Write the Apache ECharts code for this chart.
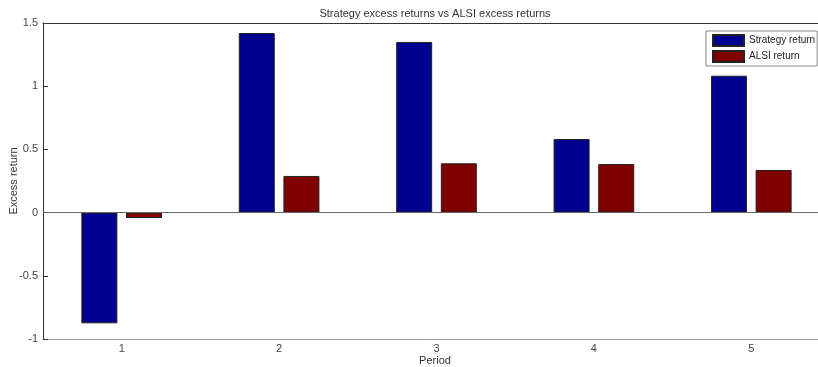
<!DOCTYPE html>
<html><head><meta charset="utf-8">
<script src="https://cdn.jsdelivr.net/npm/echarts@6/dist/echarts.min.js"></script>
<style>html,body{margin:0;padding:0;background:#fff}#c{width:818px;height:367px}</style>
</head><body><div id="c"></div>
<script>
var categories = ['1', '2', '3', '4', '5'];
var strategyReturn = [-0.876, 1.421, 1.35, 0.582, 1.083];
var alsiReturn = [-0.043, 0.29, 0.39, 0.384, 0.337];
var seriesNames = ['Strategy return', 'ALSI return'];
var titleText = 'Strategy excess returns vs ALSI excess returns';
var xName = 'Period';
var yName = 'Excess return';

var FONT = 'Liberation Sans, Arial, sans-serif';
var chart = echarts.init(document.getElementById('c'), null, {renderer: 'canvas'});
chart.setOption({
  animation: false,
  backgroundColor: '#fff',
  textStyle: {fontFamily: FONT},
  title: [
    {text: titleText, left: 430, top: 3, textAlign: 'center',
     textStyle: {fontSize: 11, fontWeight: 'normal', color: '#333', fontFamily: FONT}},
    {text: xName, left: 430, top: 350, textAlign: 'center',
     textStyle: {fontSize: 11, fontWeight: 'normal', color: '#333', fontFamily: FONT}}
  ],
  legend: {
    orient: 'vertical', left: 706, top: 31,
    data: seriesNames,
    icon: 'rect', itemWidth: 31, itemHeight: 11, itemGap: 3,
    padding: [3, 2, 3, 6],
    borderColor: '#888', borderWidth: 1, backgroundColor: '#fff',
    textStyle: {fontSize: 10, color: '#222', fontFamily: FONT}
  },
  grid: {left: 43, top: 23, width: 787, height: 316, containLabel: false, outerBoundsMode: 'none'},
  xAxis: [
    {type: 'category', data: categories, position: 'bottom',
     axisLine: {onZero: false, lineStyle: {color: '#999', width: 1}},
     axisTick: {inside: true, alignWithLabel: true, length: 5, lineStyle: {color: '#333'}},
     axisLabel: {fontSize: 11, color: '#444', margin: 4, fontFamily: FONT},
     splitLine: {show: false}},
    {type: 'category', data: categories, position: 'top',
     axisLine: {onZero: false, lineStyle: {color: '#333', width: 1}},
     axisTick: {inside: true, alignWithLabel: true, length: 5, lineStyle: {color: '#333'}},
     axisLabel: {show: false}, splitLine: {show: false}}
  ],
  yAxis: [{
    type: 'value', min: -1, max: 1.5, interval: 0.5,
    name: yName, nameLocation: 'middle', nameGap: 24, nameRotate: 90, nameMoveOverlap: false,
    nameTextStyle: {fontSize: 11, color: '#333', fontFamily: FONT},
    axisLine: {show: true, lineStyle: {color: '#333'}},
    axisTick: {show: true, inside: true, length: 5, lineStyle: {color: '#333'}},
    axisLabel: {fontSize: 11, color: '#444', margin: 5, fontFamily: FONT},
    splitLine: {show: false}
  }],
  series: [
    {name: seriesNames[0], type: 'bar', data: strategyReturn, barWidth: 36, barGap: '24%',
     itemStyle: {color: '#00008F', borderColor: '#222', borderWidth: 1},
     markLine: {silent: true, symbol: 'none', label: {show: false},
       lineStyle: {color: '#666', type: 'solid', width: 1},
       data: [{yAxis: 0}]}, z: 2},
    {name: seriesNames[1], type: 'bar', data: alsiReturn, barWidth: 36, barGap: '24%',
     itemStyle: {color: '#800000', borderColor: '#222', borderWidth: 1}, z: 2}
  ]
});
</script></body></html>
